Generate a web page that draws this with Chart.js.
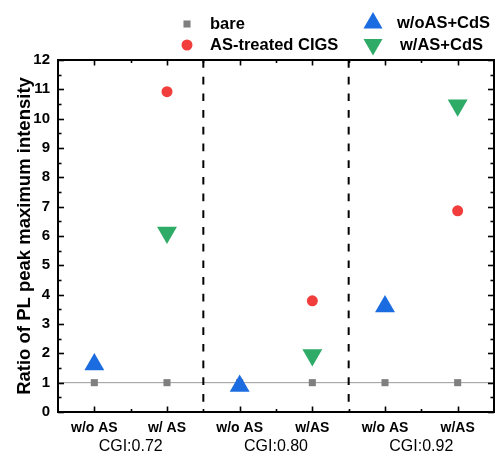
<!DOCTYPE html>
<html>
<head>
<meta charset="utf-8">
<script src="https://cdn.jsdelivr.net/npm/chart.js@4.4.0/dist/chart.umd.min.js"></script>
<style>
  html, body { margin: 0; padding: 0; background: #fff; }
  #wrap { width: 495px; height: 452px; position: relative; }
</style>
</head>
<body>
<div id="wrap"><canvas id="chart"></canvas></div>
<script>
// Categories along x (one per sample) and the CGI groups under them
const sampleLabels = ['w/o AS', 'w/ AS', 'w/o AS', 'w/AS', 'w/o AS', 'w/AS'];
const groupLabels = ['CGI:0.72', 'CGI:0.80', 'CGI:0.92'];
const groupCenters = [0.5, 2.5, 4.5];
const groupDividers = [1.5, 3.5];

// Series values, x is the index into sampleLabels
const bareX = [0, 1, 2, 3, 4, 5];
const bareY = [1, 1, 1, 1, 1, 1];
const asTreatedX = [1, 3, 5];
const asTreatedY = [10.92, 3.79, 6.86];
const woAsCdsX = [0, 2, 4];
const woAsCdsY = [1.62, 0.89, 3.6];
const wAsCdsX = [1, 3, 5];
const wAsCdsY = [6.12, 1.94, 10.46];

const Y_MIN = 0;
const Y_MAX = 12;
const X_MIN = -0.5;
const X_MAX = 5.5;

const COLORS = {
  bare: '#7f7f7f',
  asTreated: '#f23d3d',
  woAsCds: '#1b6ce0',
  wAsCds: '#2eab66'
};

const FONT = '"Liberation Sans", Arial, sans-serif';

const toPoints = (xs, ys) => xs.map((x, i) => ({ x, y: ys[i] }));

const legendItems = [
  { text: 'bare', style: 'rect', radius: 5, rotation: 0, color: COLORS.bare, mx: 187, my: 24, tx: 210 },
  { text: 'AS-treated CIGS', style: 'circle', radius: 5.5, rotation: 0, color: COLORS.asTreated, mx: 187, my: 45, tx: 210 },
  { text: 'w/oAS+CdS', style: 'triangle', radius: 11, rotation: 0, color: COLORS.woAsCds, mx: 373, my: 23, tx: 397 },
  { text: 'w/AS+CdS', style: 'triangle', radius: 11, rotation: 180, color: COLORS.wAsCds, mx: 373, my: 44.5, tx: 400 }
];

// legend in two columns above the plot
const legendPlugin = {
  id: 'twoColLegend',
  afterDraw(chart) {
    const ctx = chart.ctx;
    ctx.save();
    legendItems.forEach((item) => {
      ctx.fillStyle = item.color;
      Chart.helpers.drawPoint(ctx, {
        pointStyle: item.style,
        radius: item.radius,
        rotation: item.rotation,
        borderWidth: 0
      }, item.mx, item.my);
      ctx.fillStyle = '#000';
      ctx.font = `bold 16.5px ${FONT}`;
      ctx.textAlign = 'left';
      ctx.textBaseline = 'middle';
      ctx.fillText(item.text, item.tx, item.my + 0.5);
    });
    ctx.restore();
  }
};

// inward ticks on all four sides plus the frame
const framePlugin = {
  id: 'frameTicks',
  afterDatasetsDraw(chart) {
    const { ctx, chartArea: a, scales: { x, y } } = chart;
    const seg = (x1, y1, x2, y2) => {
      ctx.beginPath();
      ctx.moveTo(x1, y1);
      ctx.lineTo(x2, y2);
      ctx.stroke();
    };
    ctx.save();
    ctx.strokeStyle = '#000';
    ctx.lineWidth = 1.6;
    for (let v = Y_MIN; v <= Y_MAX; v += 0.5) {
      const py = Math.round(y.getPixelForValue(v)) + 0.5;
      const len = Number.isInteger(v) ? 6 : 3.5;
      seg(a.left, py, a.left + len, py);
      seg(a.right, py, a.right - len, py);
    }
    for (let v = X_MIN + 0.5; v < X_MAX; v += 0.5) {
      const px = Math.round(x.getPixelForValue(v)) + 0.5;
      const len = Number.isInteger(v) ? 5.5 : 3;
      seg(px, a.bottom, px, a.bottom - len);
      seg(px, a.top, px, a.top + len);
    }
    ctx.lineWidth = 2;
    ctx.strokeRect(a.left, a.top, a.right - a.left, a.bottom - a.top);
    ctx.restore();
  }
};

const datasets = [
  {
    label: 'bare',
    data: toPoints(bareX, bareY),
    pointStyle: 'rect',
    pointRadius: 5,
    backgroundColor: COLORS.bare,
    borderWidth: 0,
    order: 4
  },
  {
    label: 'AS-treated CIGS',
    data: toPoints(asTreatedX, asTreatedY),
    pointStyle: 'circle',
    pointRadius: 5.5,
    backgroundColor: COLORS.asTreated,
    borderWidth: 0,
    order: 3
  },
  {
    label: 'w/oAS+CdS',
    data: toPoints(woAsCdsX, woAsCdsY),
    pointStyle: 'triangle',
    pointRadius: 11.5,
    backgroundColor: COLORS.woAsCds,
    borderWidth: 0,
    order: 2
  },
  {
    label: 'w/AS+CdS',
    data: toPoints(wAsCdsX, wAsCdsY),
    pointStyle: 'triangle',
    pointRotation: 180,
    pointRadius: 11.5,
    backgroundColor: COLORS.wAsCds,
    borderWidth: 0,
    order: 1
  },
  {
    label: 'y=1',
    data: [{ x: X_MIN, y: 1 }, { x: X_MAX, y: 1 }],
    showLine: true,
    borderColor: '#9a9a9a',
    borderWidth: 1,
    pointRadius: 0,
    order: 10
  }
].concat(groupDividers.map((d) => ({
  label: 'divider',
  data: [{ x: d, y: Y_MAX }, { x: d, y: Y_MIN }],
  showLine: true,
  borderColor: '#000',
  borderWidth: 2,
  borderDash: [7.7, 9],
  pointRadius: 0,
  order: 9
})));

const noSidePadding = (scale) => {
  scale.paddingLeft = 0;
  scale.paddingRight = 0;
};

new Chart(document.getElementById('chart'), {
  type: 'scatter',
  data: { datasets },
  options: {
    responsive: true,
    maintainAspectRatio: false,
    animation: false,
    events: [],
    layout: { autoPadding: false, padding: { top: 60, right: 1, left: 0, bottom: 0 } },
    plugins: {
      legend: { display: false },
      tooltip: { enabled: false }
    },
    scales: {
      x: {
        type: 'linear',
        position: 'bottom',
        min: X_MIN,
        max: X_MAX,
        grid: { display: false, drawTicks: false },
        border: { display: false },
        afterBuildTicks: (scale) => {
          scale.ticks = sampleLabels.map((_, i) => ({ value: i }));
        },
        afterFit: (scale) => {
          scale.height = 22;
          noSidePadding(scale);
        },
        ticks: {
          autoSkip: false,
          maxRotation: 0,
          padding: 8,
          color: '#000',
          font: { family: FONT, size: 14, weight: 'bold' },
          callback: (value) => sampleLabels[Math.round(value)]
        }
      },
      x2: {
        type: 'linear',
        position: 'bottom',
        min: X_MIN,
        max: X_MAX,
        grid: { display: false, drawTicks: false },
        border: { display: false },
        afterBuildTicks: (scale) => {
          scale.ticks = groupCenters.map((v) => ({ value: v }));
        },
        afterFit: (scale) => {
          scale.height = 18;
          noSidePadding(scale);
        },
        ticks: {
          autoSkip: false,
          maxRotation: 0,
          padding: 3,
          color: '#000',
          font: { family: FONT, size: 16 },
          callback: (value, i) => groupLabels[i]
        }
      },
      y: {
        min: Y_MIN,
        max: Y_MAX,
        grid: { display: false, drawTicks: false },
        border: { display: false },
        afterFit: (scale) => { scale.width = 58; },
        ticks: {
          stepSize: 1,
          padding: 8,
          color: '#000',
          font: { family: FONT, size: 15, weight: 'bold' }
        },
        title: {
          display: true,
          text: 'Ratio of PL peak maximum intensity',
          color: '#000',
          padding: { top: 14, bottom: 0 },
          font: { family: FONT, size: 18.5, weight: 'bold' }
        }
      }
    }
  },
  plugins: [framePlugin, legendPlugin]
});
</script>
</body>
</html>
